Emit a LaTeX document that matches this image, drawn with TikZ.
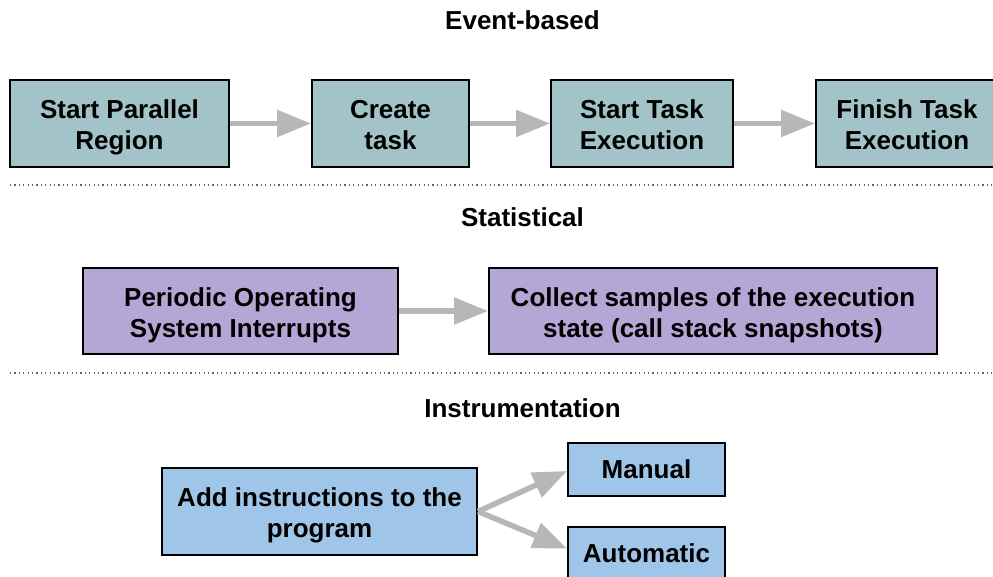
\documentclass[tikz,border=0pt]{standalone}
\usepackage{fontspec}
\setmainfont{Liberation Sans}
\usetikzlibrary{arrows.meta}

\definecolor{tealfill}{HTML}{A2C4C9}
\definecolor{purplefill}{HTML}{B4A7D6}
\definecolor{bluefill}{HTML}{9FC5E8}
\definecolor{arrowgray}{HTML}{B7B7B7}
\definecolor{dotgray}{HTML}{666666}

% struts give every two-line text block the same height and depth,
% so all of them sit at the same level in their boxes
\newcommand{\firstlinestrut}{\rule{0pt}{27pt}}
\newcommand{\lastlinestrut}{\rule[-6pt]{0pt}{6pt}}

\tikzset{
  box/.style={draw=black, line width=2pt, align=center, inner sep=0pt,
    font=\fontsize{26}{31}\selectfont\bfseries, text=black},
  evbox/.style={box, fill=tealfill, minimum height=87pt},
  stbox/.style={box, fill=purplefill, minimum height=86pt},
  inbox/.style={box, fill=bluefill},
  title/.style={font=\fontsize{26}{31}\selectfont\bfseries, inner sep=0pt},
  flow/.style={draw=arrowgray, line width=5.5pt,
    -{Triangle[length=34pt,width=26pt]}},
  separator/.style={draw=dotgray, line width=1.2pt,
    dash pattern=on 1.2pt off 3.2pt}
}

\begin{document}
\begin{tikzpicture}[x=1pt,y=-1pt]
  \useasboundingbox (0,0) rectangle (993,577);
  \clip (0,0) rectangle (993,577);
  \fill[white] (0,0) rectangle (993,577);

  % Event-based section
  \node[title] (evtitle) at (522.5,20) {Event-based};
  \node[evbox, minimum width=219pt] (spr) at (119.5,123.5) {\firstlinestrut Start Parallel\\Region\lastlinestrut};
  \node[evbox, minimum width=157pt] (ct)  at (390.5,123.5) {\firstlinestrut Create\\task\lastlinestrut};
  \node[evbox, minimum width=182pt] (ste) at (642,123.5)   {\firstlinestrut Start Task\\Execution\lastlinestrut};
  \node[evbox, minimum width=182pt] (fte) at (907,123.5)   {\firstlinestrut Finish Task\\Execution\lastlinestrut};
  \draw[flow] (spr) -- (ct);
  \draw[flow] (ct) -- (ste);
  \draw[flow] (ste) -- (fte);

  \draw[separator] (10,185) -- (993,185);

  % Statistical section
  \node[title] (sttitle) at (522.5,217) {Statistical};
  \node[stbox, minimum width=315pt] (posi) at (240.5,311) {\firstlinestrut Periodic Operating\\System Interrupts\lastlinestrut};
  \node[stbox, minimum width=448pt] (cses) at (713,311) {\firstlinestrut Collect samples of the execution\\state (call stack snapshots)\lastlinestrut};
  \draw[flow] (posi) -- (cses);

  \draw[separator] (10,373) -- (993,373);

  % Instrumentation section
  \node[title] (intitle) at (522.5,408) {Instrumentation};
  \node[inbox, minimum width=315pt, minimum height=87pt] (add) at (319.5,511.5) {\firstlinestrut Add instructions to the\\program\lastlinestrut};
  \node[inbox, minimum width=157pt, minimum height=53pt] (man) at (646.5,469.5) {Manual};
  \node[inbox, minimum width=157pt, minimum height=53pt] (aut) at (646.5,553.5) {Automatic};
  \draw[flow] (add.east) -- ([yshift=-1.5pt]man.west);
  \draw[flow] (add.east) -- ([yshift=5pt]aut.west);
\end{tikzpicture}
\end{document}
